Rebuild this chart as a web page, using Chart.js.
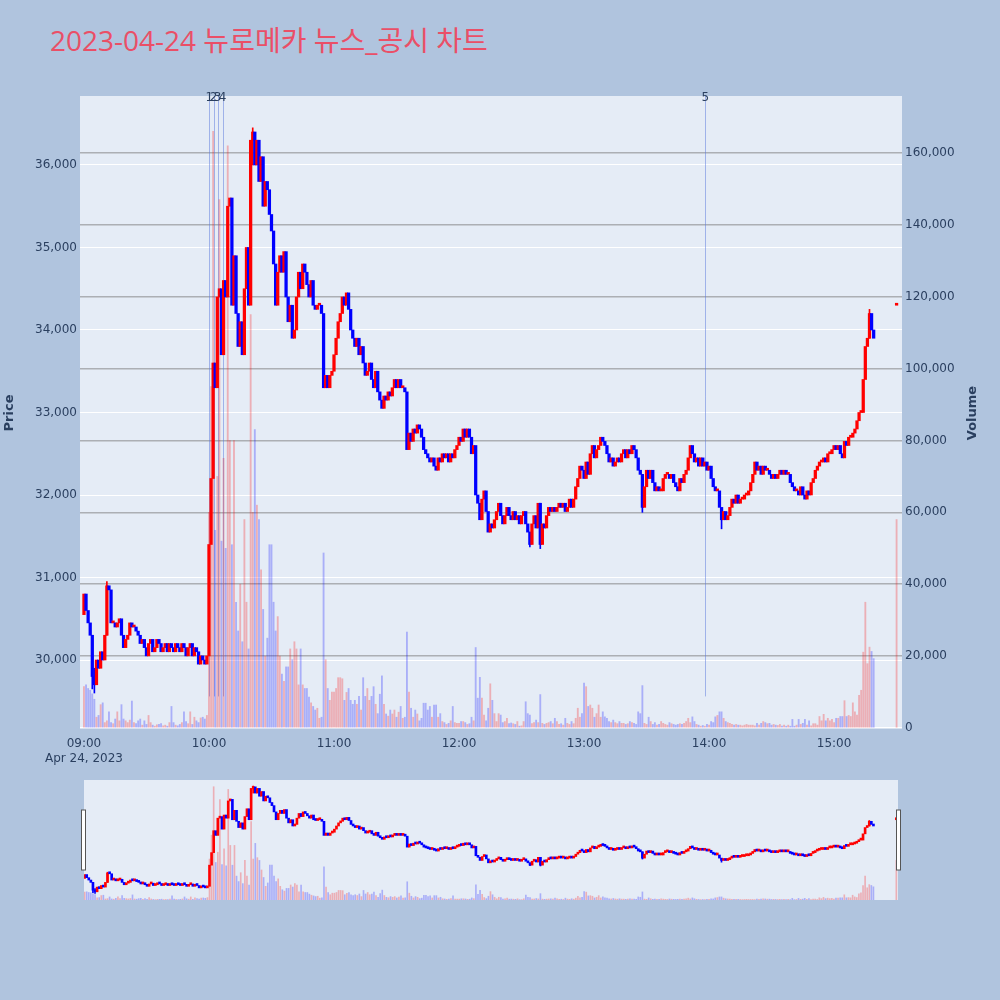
<!DOCTYPE html>
<html>
<head>
<meta charset="utf-8">
<script src="https://cdn.jsdelivr.net/npm/chart.js@4.4.0/dist/chart.umd.min.js"></script>
<style>
  body { margin: 0; background: #b0c4de; width: 1000px; height: 1000px; position: relative; overflow: hidden;
         font-family: 'Open Sans', 'Noto Sans CJK KR', sans-serif; }
  #title { position: absolute; left: 50px; top: 26px; font-size: 28px; line-height: 28px; color: #ea4f67; white-space: nowrap; }
  #main { position: absolute; left: 0; top: 0; }
  #slider { position: absolute; left: 0; top: 770px; }
</style>
</head>
<body>
<div id="title">2023-04-24 뉴로메카 뉴스_공시 차트</div>
<canvas id="main" width="1000" height="800"></canvas>
<canvas id="slider" width="1000" height="140"></canvas>
<script>
// minutes after 09:00, one candle per minute from 09:00 to 15:19
const firstOpen = 30550;
const closes = [
  30800, 30600, 30450, 30300, 29800, 29700, 30000, 29900, 30100, 30000,
  30300, 30900, 30850, 30450, 30450, 30400, 30450, 30500, 30300, 30150,
  30250, 30300, 30450, 30400, 30400, 30350, 30300, 30200, 30250, 30150,
  30050, 30200, 30250, 30100, 30150, 30250, 30200, 30100, 30150, 30200,
  30100, 30200, 30150, 30100, 30200, 30150, 30100, 30200, 30150, 30050,
  30150, 30200, 30050, 30150, 30100, 29950, 30050, 30000, 29950, 30050,
  31400, 32200, 33600, 33300, 34400, 34500, 33700, 34600, 34400, 35500,
  35600, 34300, 34900, 34200, 33800, 34100, 33700, 34500, 35000, 34300,
  36300, 36400, 36000, 36300, 35800, 36100, 35500, 35800, 35700, 35400,
  35200, 34800, 34300, 34700, 34900, 34700, 34950, 34400, 34100, 34300,
  33900, 34000, 34400, 34700, 34500, 34800, 34700, 34550, 34400, 34600,
  34300, 34250, 34300, 34300, 34200, 33300, 33450, 33300, 33450, 33500,
  33700, 33900, 34100, 34200, 34400, 34300, 34450, 34250, 34000, 33900,
  33800, 33900, 33700, 33800, 33600, 33450, 33500, 33600, 33400, 33300,
  33500, 33250, 33150, 33050, 33200, 33150, 33250, 33200, 33300, 33400,
  33300, 33400, 33300, 33300, 33250, 32550, 32750, 32650, 32800, 32750,
  32850, 32800, 32700, 32550, 32500, 32450, 32400, 32450, 32350, 32300,
  32450, 32400, 32500, 32450, 32500, 32400, 32500, 32450, 32550, 32600,
  32700, 32650, 32800, 32700, 32800, 32700, 32500, 32600, 32000, 31900,
  31700, 31950, 32050, 31800, 31550, 31650, 31600, 31700, 31800, 31900,
  31750, 31650, 31750, 31850, 31750, 31700, 31800, 31700, 31750, 31650,
  31750, 31800, 31650, 31550, 31400, 31650, 31750, 31600, 31900, 31400,
  31650, 31600, 31750, 31850, 31800, 31850, 31800, 31850, 31900, 31850,
  31900, 31800, 31850, 31950, 31850, 31950, 32100, 32200, 32350, 32300,
  32200, 32400, 32250, 32500, 32600, 32450, 32550, 32600, 32700, 32650,
  32600, 32500, 32400, 32450, 32350, 32400, 32450, 32400, 32500, 32550,
  32450, 32550, 32500, 32600, 32550, 32450, 32300, 32250, 31850, 32100,
  32300, 32200, 32300, 32150, 32050, 32100, 32050, 32050, 32200, 32250,
  32250, 32200, 32250, 32150, 32100, 32050, 32200, 32150, 32250, 32300,
  32450, 32600, 32500, 32400, 32450, 32350, 32450, 32350, 32400, 32300,
  32350, 32200, 32100, 32050, 32050, 31850, 31700, 31800, 31700, 31750,
  31850, 31950, 31900, 32000, 31900, 31950, 31950, 32000, 32000, 32050,
  32150, 32250, 32400, 32300, 32350, 32250, 32350, 32300, 32300, 32250,
  32200, 32250, 32200, 32250, 32300, 32250, 32300, 32250, 32250, 32150,
  32100, 32050, 32050, 32000, 32100, 32000, 31950, 32050, 32000, 32150,
  32200, 32300, 32350, 32400, 32400, 32450, 32400, 32500, 32500, 32550,
  32600, 32550, 32600, 32500, 32450, 32650, 32600, 32700, 32700, 32750,
  32800, 32900, 33000, 33000, 33400, 33800, 33900, 34200, 34000, 33900
];
const volumes = [
  11500, 12000, 11000, 10500, 9500, 8000, 3000, 3500, 6500, 7000,
  1500, 2000, 4500, 1500, 1200, 2500, 4500, 2000, 6500, 2500,
  2000, 1500, 2200, 7500, 1500, 1200, 2000, 2500, 800, 2000,
  1000, 3500, 1500, 800, 500, 900, 1000, 1200, 600, 800,
  500, 1500, 6000, 1500, 800, 600, 1000, 1500, 4500, 1800,
  1200, 4500, 1000, 3000, 2000, 1500, 2800, 3000, 2500, 3500,
  60000, 95000, 166000, 55000, 70000, 147000, 52000, 75000, 50000, 162000,
  80000, 51000, 80000, 35000, 27000, 40000, 24000, 58000, 35000, 22000,
  115000, 60000, 83000, 62000, 58000, 44000, 33000, 20000, 25000, 51000,
  51000, 35000, 27000, 31000, 20000, 15000, 13000, 17000, 17000, 22000,
  19000, 24000, 22000, 12000, 22000, 12000, 11000, 11000, 8600, 7000,
  6000, 5000, 5500, 2700, 3000, 48700, 19000, 11000, 7700, 10000,
  10000, 11000, 14000, 14000, 13700, 7700, 9900, 11000, 7700, 6600,
  7700, 6600, 8800, 5000, 14000, 8800, 11000, 7700, 8800, 11500,
  6600, 4000, 9400, 14500, 6600, 3900, 3300, 5000, 3900, 5000,
  3000, 4400, 6000, 2700, 3000, 26700, 10000, 5500, 3000, 5000,
  3900, 2000, 2700, 6900, 6900, 5000, 6000, 3000, 6400, 6400,
  3000, 4000, 1800, 1500, 1000, 1300, 2000, 6000, 1500, 1300,
  1300, 1800, 1800, 1500, 1000, 1200, 3000, 2000, 22400, 8300,
  14100, 8300, 3600, 2000, 5500, 12300, 7700, 4000, 1800, 4000,
  3600, 1500, 1800, 2700, 1200, 1400, 1200, 1000, 1800, 500,
  600, 1800, 7300, 4000, 3600, 1200, 1500, 2200, 1500, 9300,
  1300, 1000, 1300, 1500, 1800, 1200, 2700, 1800, 1000, 1200,
  800, 2700, 1300, 1000, 1800, 1200, 2700, 5500, 3000, 4000,
  12500, 11500, 6000, 6400, 5500, 3000, 4000, 6400, 3000, 4500,
  3100, 2700, 1800, 1500, 2200, 1500, 1200, 1800, 1300, 1300,
  1000, 1200, 1800, 1500, 1300, 1000, 4500, 4000, 11800, 1300,
  1000, 3000, 1800, 1000, 1500, 800, 1000, 1800, 1300, 1000,
  800, 1500, 1200, 1000, 800, 1000, 1200, 1000, 1300, 1800,
  2700, 1500, 3100, 1800, 1000, 800, 500, 700, 500, 1000,
  800, 1800, 1500, 3100, 3500, 4500, 4500, 2700, 1800, 1500,
  1300, 1000, 800, 1000, 800, 800, 600, 800, 1000, 800,
  800, 800, 600, 1300, 800, 1300, 1800, 1500, 1200, 1300,
  800, 1000, 800, 700, 1000, 500, 800, 500, 800, 500,
  2400, 500, 800, 2400, 1000, 1300, 2400, 800, 2000, 600,
  1200, 1200, 800, 3200, 2000, 3800, 2000, 2700, 2000, 2400,
  1500, 2700, 2700, 3200, 3200, 7600, 3200, 3500, 3200, 7000,
  4500, 3600, 9100, 10500, 21100, 35000, 17900, 22500, 21300, 19300
];
// visible wicks (minute, low, high)
const wickMinutes = [4, 5, 11, 81, 214, 219, 268, 306, 377];
const wickLows = [29650, 29600, 30300, 36000, 31370, 31350, 31790, 31590, 33900];
const wickHighs = [30300, 29900, 30950, 36450, 31550, 31900, 32250, 31800, 34250];

// closing auction at 15:30
const auctionMinute = 390;
const auctionPrice = 34300;
const auctionVolume = 58000;

const newsMinutes = [60.2, 62.2, 64.1, 66.5, 298.2];
const newsLabels = ['1', '2', '3', '4', '5'];

const priceTicks = [30000, 31000, 32000, 33000, 34000, 35000, 36000];
const volumeTicks = [0, 20000, 40000, 60000, 80000, 100000, 120000, 140000, 160000];
const xTickMinutes = [0, 60, 120, 180, 240, 300, 360];
const xTickLabels = ['09:00', '10:00', '11:00', '12:00', '13:00', '14:00', '15:00'];
const dateLabel = 'Apr 24, 2023';

const UP = '#ff0000';
const DOWN = '#0000ff';
const UP_VOL = 'rgba(255,0,0,0.26)';
const DOWN_VOL = 'rgba(0,0,255,0.26)';
const TEXT = '#2a3f5f';
const FONT = "'DejaVu Sans', Verdana, sans-serif";

Chart.defaults.font.family = FONT;
Chart.defaults.color = TEXT;

const candles = closes.map((c, i) => ({ x: i, o: i ? closes[i - 1] : firstOpen, c }));
candles.push({ x: auctionMinute, o: auctionPrice, c: auctionPrice });
const vols = volumes.concat([auctionVolume]);

const candlePoints = candles.map(k => ({ x: k.x, y: [k.o, k.c] }));
const candleColors = candles.map(k => k.c >= k.o ? UP : DOWN);
const volumePoints = candles.map((k, i) => ({ x: k.x, y: vols[i] }));
const volumeColors = candles.map(k => k.c >= k.o ? UP_VOL : DOWN_VOL);
const wickPoints = wickMinutes.map((m, i) => ({ x: m, y: [wickLows[i], wickHighs[i]] }));
const wickColors = wickMinutes.map(m => candleColors[m]);

function makeDatasets(candleWidth, volWidth) {
  return [
    {
      label: 'Price', data: candlePoints, backgroundColor: candleColors,
      barThickness: candleWidth, minBarLength: 2, grouped: false, yAxisID: 'y', order: 0
    },
    {
      label: 'Wick', data: wickPoints, backgroundColor: wickColors,
      barThickness: 1, grouped: false, yAxisID: 'y', order: 1
    },
    {
      label: 'Volume', data: volumePoints, backgroundColor: volumeColors,
      barThickness: volWidth, grouped: false, yAxisID: 'y1', order: 2
    }
  ];
}

const plotBg = {
  id: 'plotBg',
  beforeDraw(chart) {
    const { ctx, chartArea: a } = chart;
    ctx.save();
    ctx.fillStyle = '#e5ecf6';
    ctx.fillRect(a.left, a.top, a.right - a.left, a.bottom - a.top);
    ctx.restore();
  }
};

const newsMarks = {
  id: 'newsMarks',
  beforeDatasetsDraw(chart) {
    const { ctx, chartArea: a, scales: { x } } = chart;
    const yEnd = a.bottom - 0.05 * (a.bottom - a.top);
    ctx.save();
    ctx.strokeStyle = 'rgba(90,120,220,0.5)';
    ctx.lineWidth = 1;
    newsMinutes.forEach(m => {
      const px = Math.round(x.getPixelForValue(m)) + 0.5;
      ctx.beginPath();
      ctx.moveTo(px, a.top);
      ctx.lineTo(px, yEnd);
      ctx.stroke();
    });
    ctx.restore();
  },
  afterDraw(chart) {
    const { ctx, chartArea: a, scales: { x } } = chart;
    ctx.save();
    ctx.fillStyle = TEXT;
    ctx.font = '12px ' + FONT;
    ctx.textAlign = 'center';
    newsMinutes.forEach((m, i) => {
      ctx.fillText(newsLabels[i], x.getPixelForValue(m), a.top + 5);
    });
    // axis titles
    ctx.font = 'bold 13px ' + FONT;
    ctx.textBaseline = 'middle';
    [['Price', 10], ['Volume', 973]].forEach(([t, px]) => {
      ctx.save();
      ctx.translate(px, 413);
      ctx.rotate(-Math.PI / 2);
      ctx.fillText(t, 0, 0);
      ctx.restore();
    });
    ctx.restore();
  }
};

const fmt = v => v.toLocaleString('en-US');

new Chart(document.getElementById('main'), {
  type: 'bar',
  data: { datasets: makeDatasets(2.6, 1.2) },
  plugins: [plotBg, newsMarks],
  options: {
    responsive: false,
    animation: false,
    layout: { padding: { top: 96, left: 0, right: 0, bottom: 28 } },
    plugins: { legend: { display: false }, tooltip: { enabled: false } },
    scales: {
      x: {
        type: 'linear', min: -1.9, max: 392.6, offset: false,
        grid: { display: false, drawTicks: false }, border: { display: false },
        afterFit: s => { s.height = 44; },
        afterBuildTicks: s => { s.ticks = xTickMinutes.map(v => ({ value: v })); },
        ticks: {
          autoSkip: false, maxRotation: 0, padding: 9, font: { size: 12 }, color: TEXT,
          callback: v => {
            const i = xTickMinutes.indexOf(v);
            return i === 0 ? [xTickLabels[i], dateLabel] : xTickLabels[i];
          }
        }
      },
      y: {
        position: 'left', min: 29176, max: 36836,
        grid: { color: '#ffffff', lineWidth: 1, drawTicks: false }, border: { display: false },
        afterFit: s => { s.width = 80; },
        afterBuildTicks: s => { s.ticks = priceTicks.map(v => ({ value: v })); },
        ticks: { padding: 3, font: { size: 12 }, color: TEXT, callback: fmt }
      },
      y1: {
        position: 'right', min: 0, max: 175850,
        grid: {
          drawTicks: false, lineWidth: 1.5,
          color: c => (c.tick && c.tick.value === 0) ? '#ffffff' : 'rgba(125,125,125,0.55)'
        },
        border: { display: false },
        afterFit: s => { s.width = 98; },
        afterBuildTicks: s => { s.ticks = volumeTicks.map(v => ({ value: v })); },
        ticks: { padding: 3, font: { size: 12 }, color: TEXT, callback: fmt }
      }
    }
  }
});

const sliderHandles = {
  id: 'sliderHandles',
  afterDraw(chart) {
    const { ctx, chartArea: a } = chart;
    ctx.save();
    ctx.fillStyle = '#ffffff';
    ctx.strokeStyle = '#555555';
    ctx.lineWidth = 1;
    [a.left - 2.5, a.right - 1.5].forEach(px => {
      ctx.fillRect(px, a.top + 30, 4, 60);
      ctx.strokeRect(px, a.top + 30, 4, 60);
    });
    ctx.restore();
  }
};

new Chart(document.getElementById('slider'), {
  type: 'bar',
  data: { datasets: makeDatasets(2, 1) },
  plugins: [plotBg, sliderHandles],
  options: {
    responsive: false,
    animation: false,
    layout: { padding: { top: 10, left: 84, right: 102, bottom: 10 } },
    plugins: { legend: { display: false }, tooltip: { enabled: false } },
    scales: {
      x: { type: 'linear', min: -0.3, max: 390.8, offset: false, display: false },
      y: { min: 29176, max: 36836, display: false },
      y1: { position: 'right', min: 0, max: 175850, display: false }
    }
  }
});
</script>
</body>
</html>
